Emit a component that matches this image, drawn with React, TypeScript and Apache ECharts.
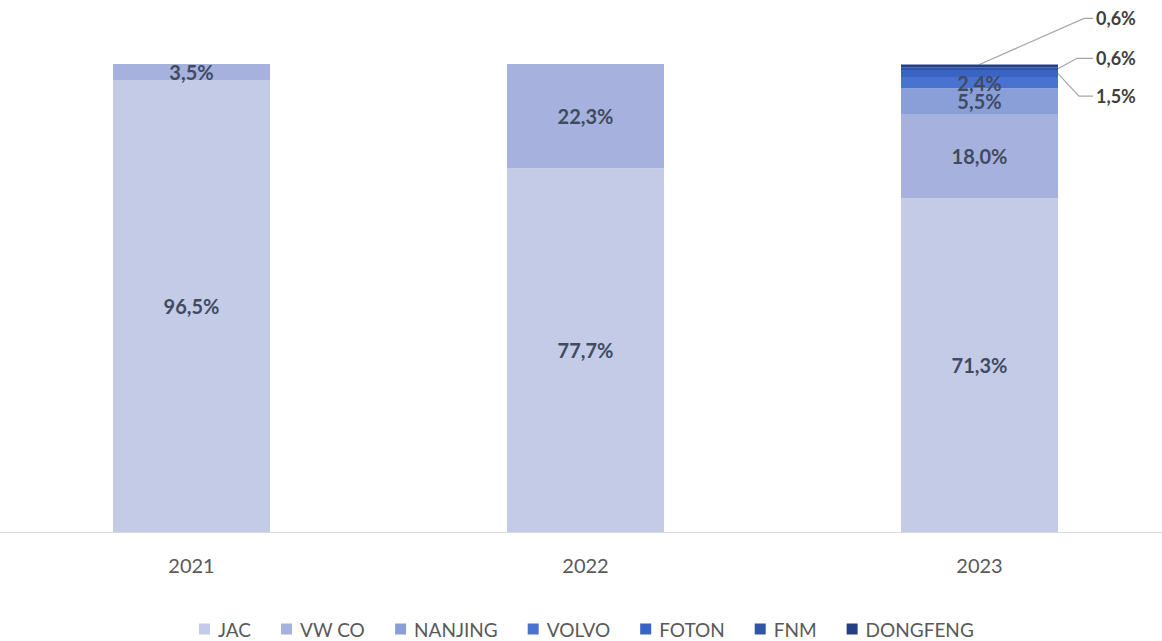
import React, { useEffect, useRef } from "react";
import * as echarts from "echarts";

const categories = ["2021", "2022", "2023"];
const seriesNames = ["JAC", "VW CO", "NANJING", "VOLVO", "FOTON", "FNM", "DONGFENG"];
const jac = [96.5, 77.7, 71.3];
const vwCo = [3.5, 22.3, 18.0];
const nanjing = [null, null, 5.5];
const volvo = [null, null, 2.4];
const foton = [null, null, 1.5];
const fnm = [null, null, 0.6];
const dongfeng = [null, null, 0.6];
const seriesValues = [jac, vwCo, nanjing, volvo, foton, fnm, dongfeng];
const colors = ["#c4cbe7", "#a7b1dd", "#8a9ed8", "#4a72d0", "#3a64c4", "#2f55a8", "#243f84"];
// series whose labels are drawn outside the bar with leader lines
const outsideSeries = ["FOTON", "FNM", "DONGFENG"];

const fmt = (v: number) => v.toFixed(1).replace(".", ",") + "%";
const FONT = "Lato, 'Open Sans', sans-serif";
const BAR_W = 157;

export default function App() {
  const ref = useRef<HTMLDivElement>(null);
  useEffect(() => {
    const chart = echarts.init(ref.current!, null, { renderer: "svg" });
    const series = seriesNames.map((name, i) => {
      const outside = outsideSeries.includes(name);
      return {
        name,
        type: "bar",
        stack: "total",
        barWidth: BAR_W,
        data: seriesValues[i],
        itemStyle: { color: colors[i] },
        label: {
          show: !outside,
          position: "inside",
          formatter: (p: any) => fmt(p.value),
          fontFamily: FONT,
          fontSize: 20,
          fontWeight: "bold",
          color: "#414b5f",
        },
      };
    });
    chart.setOption({
      animation: false,
      grid: { left: -5.5, right: -14.5, top: 64, bottom: 109, outerBoundsMode: "none", containLabel: false },
      xAxis: {
        type: "category",
        data: categories,
        axisLine: { show: true, lineStyle: { color: "#d9d9d9", width: 1 } },
        axisTick: { show: false },
        axisLabel: { margin: 23, fontFamily: FONT, fontSize: 20, color: "#595959" },
      },
      yAxis: { type: "value", min: 0, max: 100, show: false, splitLine: { show: false } },
      legend: {
        data: seriesNames,
        top: 619,
        left: 199,
        padding: 0,
        icon: "rect",
        itemWidth: 11,
        itemHeight: 11,
        itemGap: 30,
        textStyle: { fontFamily: FONT, fontSize: 19, lineHeight: 20, color: "#595959", padding: [0, 0, 0, 3] },
      },
      series,
    });

    // leader lines + labels for the thin top segments of the last bar
    const di = categories.length - 1;
    const cumulative: number[] = [];
    let acc = 0;
    seriesValues.forEach((vals) => {
      acc += (vals[di] as number) || 0;
      cumulative.push(acc);
    });
    const px = (v: number) => chart.convertToPixel({ gridIndex: 0 }, [categories[di], v]) as number[];
    const lineStyle = { stroke: "#a6a6a6", lineWidth: 1.2, fill: "none" };
    const textEl = (x: number, y: number, t: string) => ({
      type: "text",
      x,
      y,
      style: { text: t, fontFamily: FONT, fontSize: 18, fontWeight: "bold", fill: "#404040", verticalAlign: "middle" },
    });
    const graphics: any[] = [];
    // layout offsets relative to the segment anchors
    const layout: Record<string, { anchor: "center" | "right"; dy: number; kink: number }> = {
      DONGFENG: { anchor: "center", dy: -46, kink: 1084 },
      FNM: { anchor: "right", dy: -9, kink: 1077 },
      FOTON: { anchor: "right", dy: 26, kink: 1079 },
    };
    outsideSeries.forEach((name) => {
      const si = seriesNames.indexOf(name);
      const top = cumulative[si];
      const bottom = si > 0 ? cumulative[si - 1] : 0;
      const [cx, yTop] = px(top);
      const [, yBottom] = px(bottom);
      const L = layout[name];
      const ax = L.anchor === "center" ? cx : cx + BAR_W / 2;
      const ay = L.anchor === "center" ? yTop : (yTop + yBottom) / 2;
      const ly = yTop + L.dy;
      const lx = cx + BAR_W / 2 + 38;
      graphics.push({
        type: "polyline",
        shape: { points: [[ax, ay], [L.kink, ly], [lx - 3, ly]] },
        style: lineStyle,
        silent: true,
      });
      graphics.push(textEl(lx, ly, fmt(seriesValues[si][di] as number)));
    });
    chart.setOption({ graphic: graphics });
    return () => chart.dispose();
  }, []);
  return (
    <div
      ref={ref}
      style={{ position: "fixed", left: 0, top: 0, width: 1162, height: 641, background: "#fff" }}
    />
  );
}
